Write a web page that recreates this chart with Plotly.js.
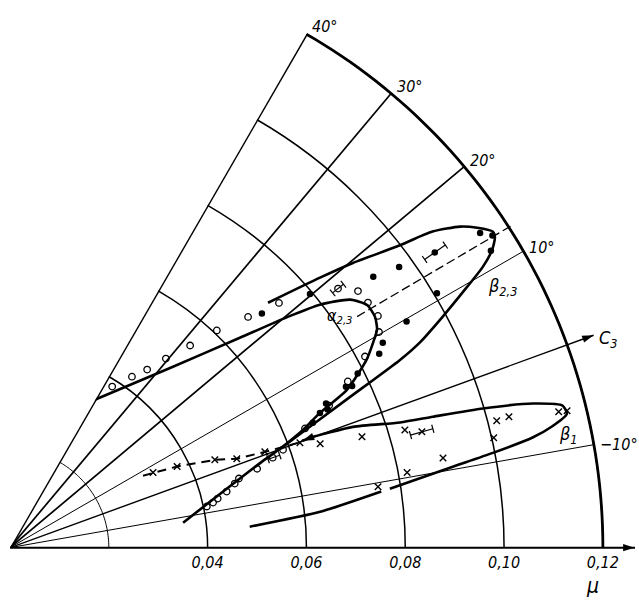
<!DOCTYPE html>
<html><head><meta charset="utf-8">
<script src="https://cdn.plot.ly/plotly-3.0.1.min.js"></script>
<style>html,body{margin:0;padding:0;background:#fff}#chart{width:639px;height:600px}</style>
</head><body><div id="chart"></div>
<script>
// angular ticks (degrees) and radial ticks (mu)
const thetaTicks = [-10, 10, 20, 30, 40];
const thetaTickText = ['−10°', '10°', '20°', '30°', '40°'];
const thetaLimits = [-20, 40];
const muTicks = [0.04, 0.06, 0.08, 0.10, 0.12];
const muTickText = ['0,04', '0,06', '0,08', '0,10', '0,12'];
const muInnerRing = 0.02;
const muMax = 0.12, muArrowTip = 0.1265;

// open circles
const openR  = [0.0345,0.0386,0.0425,0.0455,0.0496,0.0548,0.0607,0.0671,0.0736,0.0875,0.0878,0.0880,0.0865,0.0816,0.0762,0.0707,0.0644,0.0587,0.0525,0.0484,0.0473,0.0453,0.0432,0.0421,0.0407];
const openTh = [40.3,37.6,34.5,32.4,30.5,28.3,26.4,24.1,22.3,16.4,14.4,12.2,10.3,8.3,6.2,4.0,2.0,-0.3,-2.3,-3.2,-4.1,-5.5,-6.7,-7.5,-8.2];
// open circles with error bars
const openErrR  = [0.0846, 0.0562];
const openErrTh = [18.3, -1.1];
const openErrLo = [0.0832, 0.0552];
const openErrHi = [0.0860, 0.0577];
// filled circles
const fillR  = [0.0696,0.0795,0.0917,0.0971,0.1047,0.1145,0.1163,0.1144,0.1006,0.0924,0.0861,0.0844,0.0787,0.0754,0.0766,0.0703,0.0701,0.0684,0.0663];
const fillTh = [22.9,20.2,16.7,15.8,14.8,13.8,12.9,11.7,10.8,9.7,8.8,7.7,6.6,5.6,5.3,4.5,3.5,3.5,2.4];
const fillErrR = [0.1047], fillErrTh = [14.8], fillErrLo = [0.1022], fillErrHi = [0.1073];
// crosses (beta1 data)
const xR  = [0.0327,0.0376,0.0451,0.0493,0.0551,0.0624,0.0662,0.0747,0.0834,0.0866,0.1004,0.1018,0.1044,0.1144,0.1161,0.0895,0.0818,0.0755];
const xTh = [7.7,5.9,3.2,1.4,0.6,-0.1,-1.5,-2.5,-3.4,-4.3,-7.2,-5.4,-5.3,-6.1,-6.2,-8.3,-9.3,-10.6];
const xErrR = [0.0866], xErrTh = [-4.3], xErrLo = [0.0842], xErrHi = [0.0889];

// curve beta 2,3
const b23R  = [0.0354,0.0539,0.0589,0.0753,0.0876,0.0928,0.0993,0.1065,0.1113,0.1147,0.1165,0.1168,0.1146,0.1119,0.1068,0.0992,0.0902,0.0832,0.0720];
const b23Th = [-11.8,-1.15,0.3,3.9,5.7,6.6,8.1,9.7,10.7,11.7,12.6,13.2,14.4,15.5,16.8,17.9,19.7,21.05,23.5];
// curve alpha 2,3
const a23R  = [0.0344,0.0487,0.0630,0.0736,0.0797,0.0852,0.0874,0.0874,0.0864,0.0844,0.0816,0.0753,0.0684,0.0639,0.0586];
const a23Th = [40.3,28.3,22.4,19.6,18.1,16.1,14.2,12.3,10.7,9.45,7.8,5.1,3.5,1.9,0.2];
// curve beta 1 (lower branch start, small gap, then the rest ending in an arrow)
const b1aR  = [0.0487,0.0632,0.0760];
const b1aTh = [-15.0,-13.4,-11.4];
const b1R  = [0.0778,0.0905,0.0996,0.1081,0.1124,0.1159,0.1155,0.1098,0.0998,0.0896,0.0829,0.0736,0.0647,0.0631];
const b1Th = [-11.2,-9.7,-8.9,-8.1,-7.4,-6.5,-5.6,-4.6,-3.6,-2.8,-2.2,-0.6,0.1,0.06];
// dashed line through crosses
const dashR  = [0.0306,0.0376,0.0451,0.0493,0.0551,0.0620];
const dashTh = [8.4,5.9,3.2,1.4,0.6,0.0];
// dashed axis of the beta 2,3 loop
const axisR  = [0.0844, 0.1207];
const axisTh = [13.65, 12.7];
// C3 direction arrow
const c3R = [0, 0.1257], c3Th = [0, 0];

const K = 'black';
const ROT = 20;                       // theta = -20 drawn horizontally
const L = 10, T = 6, W = 625, H = 542; // plot area in pixels
const traces = [];
function toXY(r, th) { const a = (th + ROT) * Math.PI / 180; return [r * Math.cos(a), r * Math.sin(a)]; }
function dirDeg(r0, t0, r1, t1) { const p = toXY(r0, t0), q = toXY(r1, t1); return Math.atan2(q[1] - p[1], q[0] - p[0]) * 180 / Math.PI; }
function line(r, th, w, dash, shape) {
  traces.push({type:'scatterpolar', mode:'lines', r:r, theta:th,
    line:{color:K, width:w, dash:dash||'solid', shape:shape||'linear', smoothing:0.6}, hoverinfo:'skip', showlegend:false});
}
function arc(r, w) {
  const th = [];
  for (let t = thetaLimits[0]; t <= thetaLimits[1]; t += 1) th.push(t);
  line(th.map(() => r), th, w);
}
function head(r, th, size) {
  const n = r.length, phi = dirDeg(r[n-2], th[n-2], r[n-1], th[n-1]);
  traces.push({type:'scatterpolar', mode:'markers', r:[r[n-1]], theta:[th[n-1]],
    marker:{symbol:'arrow', size:size, color:K, angle:90 - phi, line:{width:0}},
    hoverinfo:'skip', showlegend:false, cliponaxis:false});
}
function errbars(r, th, lo, hi) {
  for (let i = 0; i < r.length; i++) {
    traces.push({type:'scatterpolar', mode:'lines+markers', r:[lo[i], hi[i]], theta:[th[i], th[i]],
      line:{color:K, width:1.2}, marker:{symbol:'line-ns', size:6, line:{color:K, width:1.2}, angle:-(th[i]+ROT)},
      hoverinfo:'skip', showlegend:false, cliponaxis:false});
  }
}
// frame: radial lines, inner ring, outer arc
thetaTicks.forEach(t => {
  const w = t === thetaLimits[1] ? 2.8 : (t >= 20 ? 1.7 : 1);
  line([0, muMax], [t, t], w);
});
arc(muInnerRing, 1);
arc(muMax, 2.8);
// curves
line(axisR, axisTh, 1.3, '9px,4px');
line(dashR, dashTh, 2, '9px,6px');
line(b23R, b23Th, 2.6, 'solid', 'spline');
line(a23R, a23Th, 2.6, 'solid', 'spline');
line(b1aR, b1aTh, 2.6, 'solid', 'spline');
line(b1R, b1Th, 2.6, 'solid', 'spline');
head(b1R, b1Th, 12);
line(c3R, c3Th, 1.4);
head(c3R, c3Th, 12);
head([0, muArrowTip - 0.0001], [thetaLimits[0], thetaLimits[0]], 12);
errbars(openErrR, openErrTh, openErrLo, openErrHi);
errbars(fillErrR, fillErrTh, fillErrLo, fillErrHi);
errbars(xErrR, xErrTh, xErrLo, xErrHi);
traces.push({type:'scatterpolar', mode:'markers', r:openR.concat(openErrR), theta:openTh.concat(openErrTh),
  marker:{symbol:'circle-open', size:6.5, color:K, line:{color:K, width:1.3}}, hoverinfo:'skip', showlegend:false, cliponaxis:false});
traces.push({type:'scatterpolar', mode:'markers', r:fillR, theta:fillTh,
  marker:{symbol:'circle', size:6.5, color:K}, hoverinfo:'skip', showlegend:false, cliponaxis:false});
traces.push({type:'scatterpolar', mode:'markers', r:xR, theta:xTh,
  marker:{symbol:'x-thin', size:6.5, color:K, line:{color:K, width:1.4}}, hoverinfo:'skip', showlegend:false, cliponaxis:false});

const lblFont = {family:'DejaVu Sans Condensed, DejaVu Sans, sans-serif', size:16, color:K, style:'italic'};
// pixel -> paper helpers for label placement
function px2paper(px, py) { return [(px - L) / W, (T + H - py) / H]; }
function ann(text, px, py, size, xanchor) {
  const p = px2paper(px, py);
  return {text:text, x:p[0], y:p[1], xref:'paper', yref:'paper', showarrow:false, xanchor:xanchor||'center', yanchor:'middle',
    font:Object.assign({}, lblFont, {size:size||18})};
}
// angular tick labels just outside the outer arc
const pxPerMu = W / muArrowTip;
const angAnns = thetaTicks.map((t, i) => {
  const a = (t + ROT) * Math.PI / 180, R = muMax * pxPerMu;
  const px = L + R * Math.cos(a) + 4, py = T + H - R * Math.sin(a) - 11 * Math.sin(a) + 1;
  return ann(thetaTickText[i], px, py, 16, 'left');
});

const layout = {
  width:639, height:600,
  margin:{l:L, r:639 - L - W, t:T, b:600 - T - H},
  paper_bgcolor:'white', plot_bgcolor:'white',
  showlegend:false,
  polar:{
    domain:{x:[0,1], y:[0,1]},
    sector:[0, 60],
    bgcolor:'white',
    angularaxis:{
      rotation:ROT, direction:'counterclockwise', thetaunit:'degrees',
      showline:false, showgrid:false, showticklabels:false, ticks:''
    },
    radialaxis:{
      range:[0, muArrowTip], tickmode:'array', tickvals:muTicks, ticktext:muTickText,
      showline:true, linecolor:K, linewidth:2,
      showgrid:true, gridcolor:K, gridwidth:1.5,
      ticks:'', side:'clockwise', tickfont:lblFont
    }
  },
  annotations:angAnns.concat([
    ann('β<sub>2,3</sub>', 502, 287),
    ann('α<sub>2,3</sub>', 340, 316, 16),
    ann('β<sub>1</sub>', 568, 435),
    ann('C<sub>3</sub>', 608, 339),
    ann('μ', 592, 586, 21)
  ])
};
Plotly.newPlot('chart', traces, layout, {staticPlot:true, displayModeBar:false});
</script></body></html>
